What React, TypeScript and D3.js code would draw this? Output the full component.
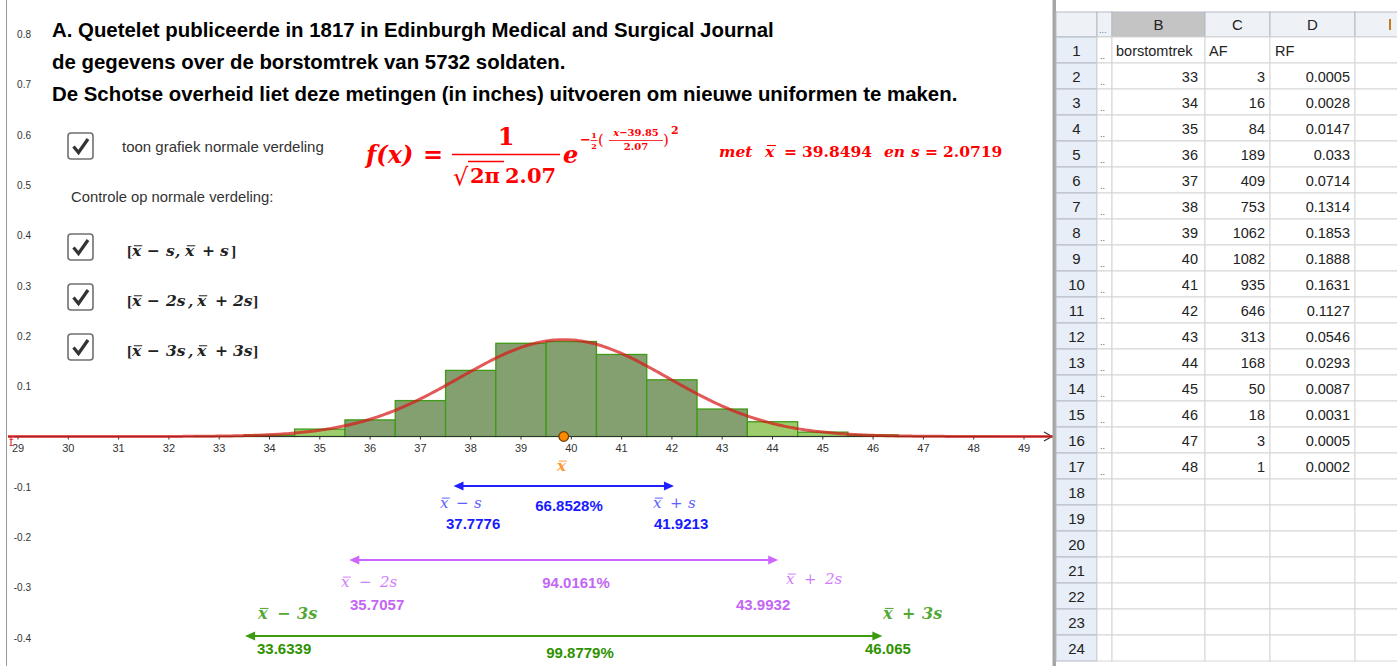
import React from "react";
import * as d3 from "d3";

const titleLines = [
  "A. Quetelet publiceerde in 1817 in Edinburgh Medical and Surgical Journal",
  "de gegevens over de borstomtrek van 5732 soldaten.",
  "De Schotse overheid liet deze metingen (in inches) uitvoeren om nieuwe uniformen te maken.",
];

const borstomtrek = [33, 34, 35, 36, 37, 38, 39, 40, 41, 42, 43, 44, 45, 46, 47, 48];
const af = [3, 16, 84, 189, 409, 753, 1062, 1082, 935, 646, 313, 168, 50, 18, 3, 1];
const rf = [0.0005, 0.0028, 0.0147, 0.033, 0.0714, 0.1314, 0.1853, 0.1888, 0.1631, 0.1127, 0.0546, 0.0293, 0.0087, 0.0031, 0.0005, 0.0002];

const xTicks = [29, 30, 31, 32, 33, 34, 35, 36, 37, 38, 39, 40, 41, 42, 43, 44, 45, 46, 47, 48, 49];
const yTicks = [-0.4, -0.3, -0.2, -0.1, 0.1, 0.2, 0.3, 0.4, 0.5, 0.6, 0.7, 0.8];

const meanX = 39.8494;
const sdS = 2.0719;

const intervalK = [1, 2, 3];
const intervalLow = [37.7776, 35.7057, 33.6339];
const intervalHigh = [41.9213, 43.9932, 46.065];
const intervalPct = ["66.8528%", "94.0161%", "99.8779%"];

const sheetRows = 24;

const SANS = "'Liberation Sans', Arial, sans-serif";
const MATH = "'DejaVu Serif', 'Liberation Serif', serif";

type Piece = { t: string; dx: number; bar?: boolean; italic?: boolean; font?: string };

function Pieces({ x0, y, size, color, weight = "normal", pieces, italic = true }: any) {
  const ps = pieces as Piece[];
  return (
    <g>
      <text y={y} fontFamily={MATH} fontSize={size} fontWeight={weight} fill={color}>
        {ps.map((p, i) => (
          <tspan key={i} x={x0 + p.dx} fontStyle={(p.italic ?? italic) ? "italic" : "normal"} fontFamily={p.font || MATH}>
            {p.t}
          </tspan>
        ))}
      </text>
      {ps
        .filter((p) => p.bar)
        .map((p, i) => (
          <line
            key={i}
            x1={x0 + p.dx + size * 0.12}
            x2={x0 + p.dx + size * 0.66}
            y1={y - size * 0.66}
            y2={y - size * 0.66}
            stroke={color}
            strokeWidth={size * 0.065}
          />
        ))}
    </g>
  );
}

function CheckBox({ x, y }: any) {
  return (
    <g>
      <rect x={x} y={y} width={25} height={26} rx={3} fill="#fff" stroke="#707070" strokeWidth={1.6} />
      <path d={`M${x + 5.5},${y + 13.5} L${x + 10.5},${y + 19.5} L${x + 20},${y + 6}`} fill="none" stroke="#333" strokeWidth={3.2} />
    </g>
  );
}

const BR = "'Liberation Serif', serif";

function intervalPieces(k: number): Piece[] {
  const ks = k === 1 ? "s" : `${k}s`;
  const o = k === 1 ? [0, 5, 20, 39, 48, 58, 75, 93, 104] : [0, 5, 20, 39, 61, 70, 88, 106, 126];
  return [
    { t: "[", dx: o[0], italic: false, font: BR },
    { t: "x", dx: o[1], bar: true },
    { t: "−", dx: o[2], italic: false },
    { t: ks, dx: o[3] },
    { t: ",", dx: o[4] },
    { t: "x", dx: o[5], bar: true },
    { t: "+", dx: o[6], italic: false },
    { t: ks, dx: o[7] },
    { t: "]", dx: o[8], italic: false, font: BR },
  ];
}

function boundPieces(k: number, sign: string, bold: boolean): Piece[] {
  const ks = k === 1 ? "s" : `${k}s`;
  const o = k === 1 ? (sign === "−" ? [0, 16, 34] : [0, 17, 35]) : bold ? [0, 19, 39] : [0, 18, 39];
  return [
    { t: "x", dx: o[0], bar: true },
    { t: sign, dx: o[1], italic: false },
    { t: ks, dx: o[2] },
  ];
}

export default function App() {
  const W = 1397;
  const H = 666;
  const x = d3.scaleLinear().domain([29, 49]).range([18, 1024]);
  const y = d3.scaleLinear().domain([0, 0.1]).range([436.5, 386.2]);

  const pdf = (v: number) => Math.exp(-0.5 * ((v - meanX) / sdS) ** 2) / (Math.sqrt(2 * Math.PI) * sdS);
  const curvePts = d3.range(28.8, 49.75, 0.05).map((v) => [v, pdf(v)] as [number, number]);
  const curve = d3
    .line<[number, number]>()
    .x((d) => x(d[0]))
    .y((d) => y(d[1]))(curvePts);

  const dark = (v: number) => v >= meanX - 2 * sdS && v <= meanX + 2 * sdS;

  const arrowRow = [486, 560, 636];
  const arrowColor = ["#1f1fff", "#cc66ff", "#3a9a10"];
  const numColor = ["#1a1aff", "#c466f5", "#2f9200"];
  const mathColor = ["#6060ff", "#d07ef8", "#52a832"];
  const labelPos = [
    { lm: [440, 508], ln: [446, 529], pc: [569, 511], hm: [653, 508], hn: [654, 529], bold: false, msize: 15 },
    { lm: [341, 587], ln: [350, 610], pc: [576, 588], hm: [786, 584], hn: [736, 610], bold: false, msize: 15 },
    { lm: [258, 619], ln: [257, 654], pc: [580, 658], hm: [883, 619], hn: [865, 654], bold: true, msize: 16 },
  ];

  const arrowHead = (tx: number, ty: number, dir: number, c: string) => (
    <path d={`M${tx},${ty} L${tx - dir * 10},${ty - 4.5} L${tx - dir * 10},${ty + 4.5} Z`} fill={c} />
  );

  const colX = [1056, 1097, 1112, 1205, 1270, 1355, 1445];
  const headerTop = 12;
  const headerBot = 37;
  const rowH = 26;
  const colLetters = ["", "...", "B", "C", "D", "E"];

  const red = "#ff0000";

  return (
    <svg width={W} height={H} style={{ position: "fixed", left: 0, top: 0, background: "#fff" }} fontFamily={SANS}>
      <rect x={0} y={0} width={W} height={H} fill="#fff" />
      <line x1={6.5} x2={6.5} y1={0} y2={H} stroke="#9a9a9a" strokeWidth={1} />

      {yTicks.map((t) => (
        <text key={t} x={31} y={y(t) + 4} fontSize={10} fill="#333" textAnchor="end">
          {d3.format(".1f")(t).replace("−", "-")}
        </text>
      ))}

      {titleLines.map((l, i) => (
        <text key={i} x={52} y={37 + i * 32} fontSize={20.4} fontWeight="bold" fill="#000">
          {l}
        </text>
      ))}

      <CheckBox x={68} y={133} />
      <text x={122} y={152} fontSize={15} fill="#333">toon grafiek normale verdeling</text>
      <text x={71} y={202} fontSize={14.8} fill="#333">Controle op normale verdeling:</text>
      {intervalK.map((k, i) => (
        <g key={k}>
          <CheckBox x={68} y={234 + i * 50} />
          <Pieces x0={127} y={256 + i * 50} size={15.5} color="#222" weight="bold" pieces={intervalPieces(k)} />
        </g>
      ))}

      {/* formula */}
      <g fill={red} fontFamily={MATH} fontWeight="bold">
        <text x={366} y={163} fontSize={24} fontStyle="italic">f(x)</text>
        <text x={423} y={163} fontSize={24}>=</text>
        <line x1={452} x2={560} y1={154.5} y2={154.5} stroke={red} strokeWidth={1.6} />
        <text x={506} y={145} fontSize={24} textAnchor="middle">1</text>
        <text x={453} y={185} fontSize={24} fontWeight="normal">√</text>
        <line x1={468} x2={504} y1={161.5} y2={161.5} stroke={red} strokeWidth={1.4} />
        <text x={470} y={183} fontSize={21}>2π</text>
        <text x={505} y={183} fontSize={21}>2.07</text>
        <text x={563} y={163} fontSize={24} fontStyle="italic">e</text>
        <text x={580} y={144} fontSize={13}>−</text>
        <text x={594} y={138} fontSize={8} textAnchor="middle">1</text>
        <line x1={590.5} x2={597.5} y1={140.5} y2={140.5} stroke={red} strokeWidth={0.8} />
        <text x={594} y={149} fontSize={8} textAnchor="middle">2</text>
        <text x={598} y={145} fontSize={15} fontWeight="normal">(</text>
        <text x={636} y={136} fontSize={10} textAnchor="middle"><tspan fontStyle="italic">x</tspan>−39.85</text>
        <line x1={609} x2={663} y1={140.5} y2={140.5} stroke={red} strokeWidth={0.8} />
        <text x={636} y={150} fontSize={10} textAnchor="middle">2.07</text>
        <text x={663} y={145} fontSize={15} fontWeight="normal">)</text>
        <text x={671} y={134} fontSize={11}>2</text>
        <text y={157} fontSize={15.5}>
          <tspan x={719} fontStyle="italic">met</tspan>
          <tspan x={765} fontStyle="italic">x</tspan>
          <tspan x={784}>=</tspan>
          <tspan x={802}>39.8494</tspan>
          <tspan x={884} fontStyle="italic">en</tspan>
          <tspan x={911} fontStyle="italic">s</tspan>
          <tspan x={925}>=</tspan>
          <tspan x={943}>2.0719</tspan>
        </text>
        <line x1={767} x2={776} y1={145.5} y2={145.5} stroke={red} strokeWidth={1.1} />
      </g>

      {/* histogram */}
      {borstomtrek.map((v, i) => (
        <rect
          key={v}
          x={x(v - 0.5)}
          y={y(rf[i])}
          width={x(v + 0.5) - x(v - 0.5)}
          height={y(0) - y(rf[i])}
          fill={dark(v) ? "#84a070" : "#9ccc6c"}
          stroke="#3f9a14"
          strokeWidth={1.3}
          data-af={af[i]}
        />
      ))}

      {/* x axis */}
      <line x1={8} x2={1050} y1={y(0)} y2={y(0)} stroke="#333" strokeWidth={1.2} />
      <path d={`M1052,${y(0)} L1044,${y(0) - 4.5} M1052,${y(0)} L1044,${y(0) + 4.5}`} stroke="#333" strokeWidth={1.2} fill="none" />
      {xTicks.map((t) => (
        <g key={t}>
          <line x1={x(t)} x2={x(t)} y1={y(0)} y2={y(0) + 3} stroke="#333" strokeWidth={1} />
          <text x={x(t)} y={452} fontSize={11} fill="#333" textAnchor="middle">{t}</text>
        </g>
      ))}

      <path d={curve || ""} fill="none" stroke="rgba(215,25,25,0.72)" strokeWidth={3} />
      <text x={9} y={446} fontSize={12} fill="#e03030" fontFamily={MATH}>f</text>

      <circle cx={x(meanX)} cy={y(0)} r={4.8} fill="#ff8a00" stroke="#6b3a00" strokeWidth={1.2} />
      <Pieces x0={557} y={471} size={15} color="#ff9933" weight="bold" pieces={[{ t: "x", dx: 0, bar: true }]} />

      {/* interval arrows */}
      {intervalK.map((k, i) => {
        const yy = arrowRow[i];
        const x1 = x(intervalLow[i]) - 6;
        const x2 = x(intervalHigh[i]) + 6;
        const c = arrowColor[i];
        const L = labelPos[i];
        const wt = L.bold ? "bold" : "normal";
        return (
          <g key={k}>
            <line x1={x1 + 8} x2={x2 - 8} y1={yy} y2={yy} stroke={c} strokeWidth={2} />
            {arrowHead(x1, yy, -1, c)}
            {arrowHead(x2, yy, 1, c)}
            <Pieces x0={L.lm[0]} y={L.lm[1]} size={L.msize} color={mathColor[i]} weight={wt} pieces={boundPieces(k, "−", L.bold)} />
            <Pieces x0={L.hm[0]} y={L.hm[1]} size={L.msize} color={mathColor[i]} weight={wt} pieces={boundPieces(k, "+", L.bold)} />
            <text x={L.ln[0]} y={L.ln[1]} fontSize={15} fontWeight="bold" fill={numColor[i]}>{intervalLow[i]}</text>
            <text x={L.hn[0]} y={L.hn[1]} fontSize={15} fontWeight="bold" fill={numColor[i]}>{intervalHigh[i]}</text>
            <text x={L.pc[0]} y={L.pc[1]} fontSize={15} fontWeight="bold" fill={numColor[i]} textAnchor="middle">{intervalPct[i]}</text>
          </g>
        );
      })}

      <rect x={1052.5} y={0} width={3.5} height={H} fill="#a6a6a6" />

      {/* spreadsheet */}
      <g>
        {colLetters.map((c, ci) => (
          <g key={ci}>
            <rect
              x={colX[ci]}
              y={headerTop}
              width={colX[ci + 1] - colX[ci]}
              height={headerBot - headerTop}
              fill={c === "B" ? "#c4c4c4" : "#eef1f6"}
              stroke="#b4b9c2"
              strokeWidth={1}
            />
            {ci >= 2 && ci <= 4 && (
              <text x={(colX[ci] + colX[ci + 1]) / 2} y={headerBot - 7} fontSize={15} fill="#222" textAnchor="middle">
                {c}
              </text>
            )}
            {ci === 1 && (
              <text x={colX[1] + 2} y={headerBot - 4} fontSize={9} fill="#5577aa">...</text>
            )}
          </g>
        ))}
        {/* sliver of the column E header letter, cut by the window edge */}
        <rect x={1389} y={headerTop + 7} width={2} height={11} fill="#c87a20" />
        {d3.range(1, sheetRows + 1).map((r) => {
          const top = headerBot + (r - 1) * rowH;
          const dataIdx = r - 2;
          return (
            <g key={r}>
              <rect x={colX[0]} y={top} width={colX[1] - colX[0]} height={rowH} fill="#e8eef7" stroke="#b4b9c2" strokeWidth={1} />
              <text x={(colX[0] + colX[1]) / 2} y={top + 19} fontSize={15} fill="#222" textAnchor="middle">{r}</text>
              {[1, 2, 3, 4, 5].map((ci) => (
                <rect key={ci} x={colX[ci]} y={top} width={colX[ci + 1] - colX[ci]} height={rowH} fill="#fff" stroke="#d6d6d6" strokeWidth={1} />
              ))}
              {r <= 17 && <text x={colX[1] + 3} y={top + 22} fontSize={9} fill="#555">..</text>}
              {r === 1 && (
                <g fontSize={14.5} fill="#222">
                  <text x={1116} y={top + 19}>borstomtrek</text>
                  <text x={1209} y={top + 19}>AF</text>
                  <text x={1275} y={top + 19}>RF</text>
                </g>
              )}
              {dataIdx >= 0 && dataIdx < borstomtrek.length && (
                <g fontSize={14.5} fill="#222" textAnchor="end">
                  <text x={1198} y={top + 19}>{borstomtrek[dataIdx]}</text>
                  <text x={1265} y={top + 19}>{af[dataIdx]}</text>
                  <text x={1350} y={top + 19}>{rf[dataIdx]}</text>
                </g>
              )}
            </g>
          );
        })}
      </g>
    </svg>
  );
}
